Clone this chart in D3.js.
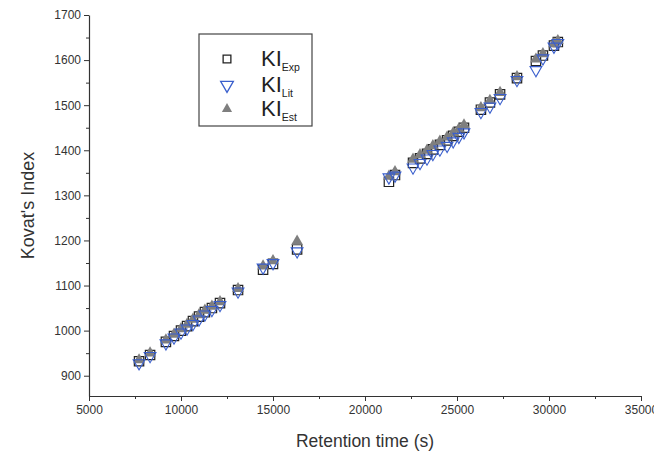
<!DOCTYPE html>
<html>
<head>
<meta charset="utf-8">
<script src="https://cdn.jsdelivr.net/npm/d3@7"></script>
<style>
  body { margin: 0; background: #fff; }
  text { font-family: Arial, "Liberation Sans", sans-serif; }
</style>
</head>
<body>
<div id="chart"></div>
<script>
// retention time (s) of each compound
const rt = [7720, 8320, 9180, 9620, 10000, 10330, 10650, 10980, 11300, 11680, 12120, 13100, 14460, 15000, 16310,
            21300, 21630, 22610, 22990, 23370, 23690, 24070, 24460, 24790, 25100, 25380, 26300, 26790, 27340, 28260, 29290, 29670, 30270, 30480];
// Kovat's index: experimental, literature, estimated
const kiExp = [932, 946, 975, 988, 1000, 1010, 1021, 1031, 1041, 1050, 1061, 1090, 1135, 1148, 1180,
               1330, 1345, 1372, 1382, 1392, 1402, 1412, 1422, 1432, 1441, 1450, 1490, 1506, 1524, 1560, 1598, 1610, 1632, 1640];
const kiLit = [928, 944, 972, 985, 996, 1005, 1015, 1025, 1036, 1046, 1057, 1087, 1140, 1150, 1176,
               1340, 1344, 1362, 1372, 1382, 1392, 1402, 1410, 1420, 1430, 1440, 1485, 1497, 1516, 1556, 1578, 1604, 1630, 1638];
const kiEst = [935, 950, 979, 992, 1004, 1014, 1025, 1035, 1045, 1054, 1064, 1093, 1143, 1155, 1198,
               1342, 1352, 1380, 1390, 1400, 1410, 1420, 1429, 1438, 1447, 1456, 1494, 1510, 1528, 1563, 1602, 1614, 1636, 1643];

const xTicks = [5000, 10000, 15000, 20000, 25000, 30000, 35000];
const yTicks = [900, 1000, 1100, 1200, 1300, 1400, 1500, 1600, 1700];
const legendSub = ['Exp', 'Lit', 'Est'];

const W = 654, H = 458;
const margin = {top: 15, right: 13, bottom: 62, left: 89};
const width = W - margin.left - margin.right;
const height = H - margin.top - margin.bottom;

const svg = d3.select('#chart').append('svg')
    .attr('width', W).attr('height', H);
const g = svg.append('g')
    .attr('transform', `translate(${margin.left},${margin.top})`);

const x = d3.scaleLinear().domain([5000, 35000]).range([0, width]);
const y = d3.scaleLinear().domain([855, 1700]).range([height, 0]);

// minor ticks first, then major axes on top
g.append('g')
    .attr('transform', `translate(0,${height})`)
    .call(d3.axisBottom(x).tickValues(d3.range(7500, 35000, 5000)).tickSize(3).tickFormat(''))
    .call(a => a.select('.domain').remove());
g.append('g')
    .call(d3.axisLeft(y).tickValues(d3.range(950, 1700, 100)).tickSize(3).tickFormat(''))
    .call(a => a.select('.domain').remove());

const xAxis = g.append('g')
    .attr('transform', `translate(0,${height})`)
    .call(d3.axisBottom(x).tickValues(xTicks).tickSize(5).tickSizeOuter(0).tickPadding(4).tickFormat(d3.format('d')));
const yAxis = g.append('g')
    .call(d3.axisLeft(y).tickValues(yTicks).tickSize(5).tickSizeOuter(0).tickPadding(3).tickFormat(d3.format('d')));

[xAxis, yAxis].forEach(a => {
  a.selectAll('text').style('font-size', '12px').attr('fill', '#333');
  a.select('.domain').attr('stroke', '#333').attr('stroke-width', 1.2);
});
g.selectAll('.tick line').attr('stroke', '#333');

// axis titles
svg.append('text')
    .attr('x', margin.left + width / 2).attr('y', 447)
    .attr('text-anchor', 'middle').style('font-size', '17.5px').attr('fill', '#333')
    .text('Retention time (s)');
svg.append('text')
    .attr('transform', `translate(34,${margin.top + height / 2}) rotate(-90)`)
    .attr('text-anchor', 'middle').style('font-size', '18px').attr('fill', '#333')
    .text("Kovat's Index");

const square = d3.symbol().type(d3.symbolSquare).size(88);
const triangle = d3.symbol().type(d3.symbolTriangle).size(60);

const pts = rt.map((t, i) => ({t, exp: kiExp[i], lit: kiLit[i], est: kiEst[i]}));

// KI Exp: open squares
g.selectAll('.exp').data(pts).enter().append('path')
    .attr('class', 'exp')
    .attr('d', square)
    .attr('transform', d => `translate(${x(d.t)},${y(d.exp)})`)
    .attr('fill', 'none').attr('stroke', '#222').attr('stroke-width', 1.2);

// KI Est: filled grey triangles
g.selectAll('.est').data(pts).enter().append('path')
    .attr('class', 'est')
    .attr('d', triangle)
    .attr('transform', d => `translate(${x(d.t)},${y(d.est)})`)
    .attr('fill', '#7f7f7f');

// KI Lit: open blue inverted triangles
g.selectAll('.lit').data(pts).enter().append('path')
    .attr('class', 'lit')
    .attr('d', triangle)
    .attr('transform', d => `translate(${x(d.t)},${y(d.lit)}) rotate(180)`)
    .attr('fill', 'none').attr('stroke', '#3a5fcd').attr('stroke-width', 1.1);

// legend
const leg = svg.append('g').attr('transform', 'translate(199,34)');
leg.append('rect').attr('width', 113).attr('height', 92)
    .attr('fill', '#fff').attr('stroke', '#444').attr('stroke-width', 1.2);
const rows = leg.selectAll('.row').data(legendSub).enter().append('g')
    .attr('transform', (d, i) => `translate(0,${[25, 51, 75][i]})`);
rows.append('path')
    .attr('transform', (d, i) => `translate(28,0)` + (i === 1 ? ' rotate(180)' : ''))
    .attr('d', (d, i) => i === 0 ? d3.symbol().type(d3.symbolSquare).size(60)() : d3.symbol().type(d3.symbolTriangle).size(i === 1 ? 70 : 45)())
    .attr('fill', (d, i) => i === 2 ? '#7f7f7f' : 'none')
    .attr('stroke', (d, i) => i === 0 ? '#222' : i === 1 ? '#3a5fcd' : 'none')
    .attr('stroke-width', 1.3);
const lt = rows.append('text').attr('x', 62).attr('y', 7).attr('fill', '#222');
lt.append('tspan').style('font-size', '22px').text('KI');
lt.append('tspan').style('font-size', '10.5px').attr('dy', 5).text(d => d);
</script>
</body>
</html>
